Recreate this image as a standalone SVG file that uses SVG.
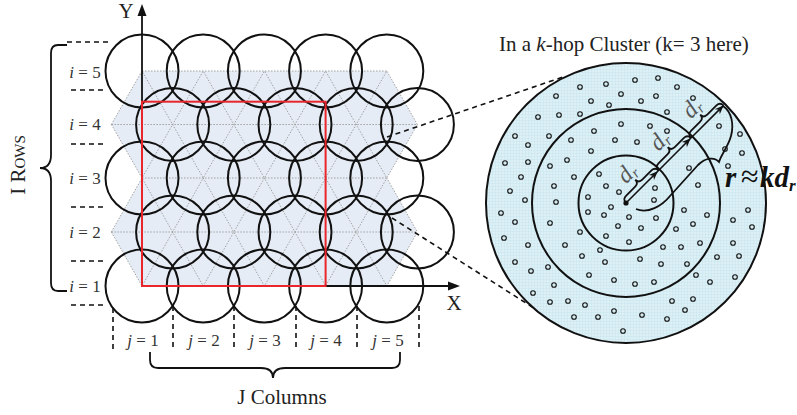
<svg xmlns="http://www.w3.org/2000/svg" width="797" height="415" viewBox="0 0 797 415">
<style>
.cir{fill:none;stroke:#111;stroke-width:2}
.dot{fill:none;stroke:#999;stroke-width:0.9;stroke-dasharray:1.5 1.5}
.dsh{fill:none;stroke:#111;stroke-width:1.6;stroke-dasharray:5 4}
.ln{fill:none;stroke:#111;stroke-width:1.8}
.lbl{font-family:"Liberation Serif",serif;font-size:17px;fill:#333}
.big{font-family:"Liberation Serif",serif;font-size:21px;fill:#222}
.nd{fill:none;stroke:#111;stroke-width:1.1}
.ring{fill:none;stroke:#111;stroke-width:2}
.dr{font-family:"Liberation Serif",serif;font-style:italic;font-size:24px;fill:#555}
</style>
<defs>
<pattern id="grid" width="3" height="3" patternUnits="userSpaceOnUse">
<rect width="3" height="3" fill="#dcf0f6"/>
<path d="M0,0.5H3M0.5,0V3" stroke="#c9e5ee" stroke-width="0.5"/>
</pattern>
<marker id="ah" viewBox="0 0 10 10" refX="10" refY="5" markerWidth="9" markerHeight="9" markerUnits="userSpaceOnUse" orient="auto">
<path d="M0,1 L10,5 L0,9 L3,5 z" fill="#111"/>
</marker>
</defs>
<rect width="797" height="415" fill="#fff"/>

<g id="lattice">
<polygon points="142,71 386.8,71 417.4,124.5 386.8,178 417.4,232 386.8,286 142,286 111.4,232 142,178 111.4,124.5" fill="#e6ecf5"/>
<path class="dot" d="M142,71H386.8M111.4,124.5H417.4M142,178H386.8M111.4,232H417.4M142,286H386.8"/>
<polyline class="dot" points="111.4,124.5 142,71 172.6,124.5 203.2,71 233.8,124.5 264.4,71 295,124.5 325.6,71 356.2,124.5 386.8,71 417.4,124.5"/>
<polyline class="dot" points="111.4,124.5 142,178 172.6,124.5 203.2,178 233.8,124.5 264.4,178 295,124.5 325.6,178 356.2,124.5 386.8,178 417.4,124.5"/>
<polyline class="dot" points="111.4,232 142,178 172.6,232 203.2,178 233.8,232 264.4,178 295,232 325.6,178 356.2,232 386.8,178 417.4,232"/>
<polyline class="dot" points="111.4,232 142,286 172.6,232 203.2,286 233.8,232 264.4,286 295,232 325.6,286 356.2,232 386.8,286 417.4,232"/>
</g>

<g id="circles">
<circle class="cir" cx="142" cy="71" r="36.5"/><circle class="cir" cx="203.2" cy="71" r="36.5"/><circle class="cir" cx="264.4" cy="71" r="36.5"/><circle class="cir" cx="325.6" cy="71" r="36.5"/><circle class="cir" cx="386.8" cy="71" r="36.5"/>
<circle class="cir" cx="172.6" cy="124.5" r="36.5"/><circle class="cir" cx="233.8" cy="124.5" r="36.5"/><circle class="cir" cx="295" cy="124.5" r="36.5"/><circle class="cir" cx="356.2" cy="124.5" r="36.5"/><circle class="cir" cx="417.4" cy="124.5" r="36.5"/>
<circle class="cir" cx="142" cy="178" r="36.5"/><circle class="cir" cx="203.2" cy="178" r="36.5"/><circle class="cir" cx="264.4" cy="178" r="36.5"/><circle class="cir" cx="325.6" cy="178" r="36.5"/><circle class="cir" cx="386.8" cy="178" r="36.5"/>
<circle class="cir" cx="172.6" cy="232" r="36.5"/><circle class="cir" cx="233.8" cy="232" r="36.5"/><circle class="cir" cx="295" cy="232" r="36.5"/><circle class="cir" cx="356.2" cy="232" r="36.5"/><circle class="cir" cx="417.4" cy="232" r="36.5"/>
<circle class="cir" cx="142" cy="286" r="36.5"/><circle class="cir" cx="203.2" cy="286" r="36.5"/><circle class="cir" cx="264.4" cy="286" r="36.5"/><circle class="cir" cx="325.6" cy="286" r="36.5"/><circle class="cir" cx="386.8" cy="286" r="36.5"/>
</g>

<g id="axes">
<line class="ln" x1="142" y1="286" x2="142" y2="14"/>
<polygon points="142,4 137.5,16 146.5,16" fill="#111"/>
<line class="ln" x1="142" y1="286" x2="449" y2="286"/>
<polygon points="460,286 448,281.5 448,290.5" fill="#111"/>
<text class="big" x="126" y="18" text-anchor="middle" font-size="18">Y</text>
<text class="big" x="454" y="310" text-anchor="middle" font-size="19">X</text>
</g>

<rect id="region" x="142" y="101.7" width="183.6" height="184.3" fill="none" stroke="#e8262b" stroke-width="2"/>

<g id="rows">
<path class="dsh" d="M67,42H108M71,90H106M71,144H106M71,207H106M71,261H106M71,305H106"/>
<text class="lbl" x="85" y="78" text-anchor="middle"><tspan font-style="italic">i</tspan> = 5</text>
<text class="lbl" x="85" y="130" text-anchor="middle"><tspan font-style="italic">i</tspan> = 4</text>
<text class="lbl" x="85" y="184" text-anchor="middle"><tspan font-style="italic">i</tspan> = 3</text>
<text class="lbl" x="85" y="238" text-anchor="middle"><tspan font-style="italic">i</tspan> = 2</text>
<text class="lbl" x="85" y="292" text-anchor="middle"><tspan font-style="italic">i</tspan> = 1</text>
<path class="ln" d="M67,45 L58,45 Q51,45 51,53 L51,155 Q51,168 40,168 Q51,168 51,181 L51,283 Q51,291 58,291 L67,291"/>
<text class="big" transform="translate(25,165) rotate(-90)" text-anchor="middle" font-variant="small-caps">I Rows</text>
</g>

<g id="columns">
<path class="dsh" d="M113,308V350M173,306V350M234,306V350M296,306V350M357,306V350M419,306V350"/>
<text class="lbl" x="143" y="346" text-anchor="middle"><tspan font-style="italic">j</tspan> = 1</text>
<text class="lbl" x="204" y="346" text-anchor="middle"><tspan font-style="italic">j</tspan> = 2</text>
<text class="lbl" x="265" y="346" text-anchor="middle"><tspan font-style="italic">j</tspan> = 3</text>
<text class="lbl" x="326" y="346" text-anchor="middle"><tspan font-style="italic">j</tspan> = 4</text>
<text class="lbl" x="388" y="346" text-anchor="middle"><tspan font-style="italic">j</tspan> = 5</text>
<path class="ln" d="M150,352 L150,360 Q150,368 158,368 L261,368 Q273,368 273,378 Q273,368 285,368 L392,368 Q400,368 400,360 L400,352"/>
<text class="big" x="282" y="404" text-anchor="middle">J Columns</text>
</g>

<g id="connectors">
<line class="dsh" x1="387" y1="137" x2="563" y2="77" stroke-width="1.8" stroke-dasharray="6 4"/>
<line class="dsh" x1="392" y1="218" x2="548" y2="317" stroke-width="1.8" stroke-dasharray="6 4"/>
</g>

<g id="cluster">
<text class="big" x="499" y="51">In a <tspan font-style="italic">k</tspan>-hop Cluster (k= 3 here)</text>
<circle cx="626" cy="203" r="140" fill="url(#grid)" stroke="#111" stroke-width="2"/>
<circle class="ring" cx="626" cy="203" r="94"/>
<circle class="ring" cx="626" cy="203" r="47.5"/>
<g id="nodes">
<circle class="nd" cx="580" cy="87" r="2.3"/><circle class="nd" cx="606" cy="84" r="2.3"/><circle class="nd" cx="621" cy="94" r="2.3"/><circle class="nd" cx="556" cy="96" r="2.3"/><circle class="nd" cx="591" cy="101" r="2.3"/><circle class="nd" cx="609" cy="105" r="2.3"/><circle class="nd" cx="538" cy="117" r="2.3"/><circle class="nd" cx="559" cy="115" r="2.3"/><circle class="nd" cx="580" cy="114" r="2.3"/><circle class="nd" cx="621" cy="124" r="2.3"/><circle class="nd" cx="515" cy="136" r="2.3"/><circle class="nd" cx="549" cy="136" r="2.3"/><circle class="nd" cx="594" cy="131" r="2.3"/><circle class="nd" cx="528" cy="145" r="2.3"/><circle class="nd" cx="571" cy="140" r="2.3"/><circle class="nd" cx="615" cy="140" r="2.3"/><circle class="nd" cx="591" cy="151" r="2.3"/><circle class="nd" cx="505" cy="163" r="2.3"/><circle class="nd" cx="528" cy="162" r="2.3"/><circle class="nd" cx="550" cy="166" r="2.3"/><circle class="nd" cx="567" cy="160" r="2.3"/><circle class="nd" cx="521" cy="177" r="2.3"/><circle class="nd" cx="574" cy="177" r="2.3"/><circle class="nd" cx="599" cy="174" r="2.3"/><circle class="nd" cx="554" cy="186" r="2.3"/><circle class="nd" cx="606" cy="186" r="2.3"/><circle class="nd" cx="510" cy="191" r="2.3"/><circle class="nd" cx="525" cy="200" r="2.3"/><circle class="nd" cx="556" cy="202" r="2.3"/><circle class="nd" cx="619" cy="192" r="2.3"/><circle class="nd" cx="588" cy="197" r="2.3"/>
<circle class="nd" cx="635" cy="80" r="2.3"/><circle class="nd" cx="658" cy="78" r="2.3"/><circle class="nd" cx="677" cy="87" r="2.3"/><circle class="nd" cx="641" cy="101" r="2.3"/><circle class="nd" cx="656" cy="96" r="2.3"/><circle class="nd" cx="693" cy="98" r="2.3"/><circle class="nd" cx="667" cy="112" r="2.3"/><circle class="nd" cx="650" cy="126" r="2.3"/><circle class="nd" cx="667" cy="131" r="2.3"/><circle class="nd" cx="637" cy="142" r="2.3"/><circle class="nd" cx="719" cy="126" r="2.3"/><circle class="nd" cx="740" cy="134" r="2.3"/><circle class="nd" cx="725" cy="149" r="2.3"/><circle class="nd" cx="742" cy="153" r="2.3"/><circle class="nd" cx="728" cy="166" r="2.3"/><circle class="nd" cx="689" cy="168" r="2.3"/><circle class="nd" cx="655" cy="188" r="2.3"/><circle class="nd" cx="698" cy="185" r="2.3"/><circle class="nd" cx="654" cy="200" r="2.3"/>
<circle class="nd" cx="501" cy="213" r="2.3"/><circle class="nd" cx="515" cy="222" r="2.3"/><circle class="nd" cx="550" cy="223" r="2.3"/><circle class="nd" cx="588" cy="212" r="2.3"/><circle class="nd" cx="604" cy="215" r="2.3"/><circle class="nd" cx="611" cy="207" r="2.3"/><circle class="nd" cx="618" cy="226" r="2.3"/><circle class="nd" cx="580" cy="232" r="2.3"/><circle class="nd" cx="606" cy="236" r="2.3"/><circle class="nd" cx="504" cy="238" r="2.3"/><circle class="nd" cx="528" cy="245" r="2.3"/><circle class="nd" cx="565" cy="245" r="2.3"/><circle class="nd" cx="600" cy="250" r="2.3"/><circle class="nd" cx="582" cy="256" r="2.3"/><circle class="nd" cx="605" cy="262" r="2.3"/><circle class="nd" cx="515" cy="262" r="2.3"/><circle class="nd" cx="548" cy="267" r="2.3"/><circle class="nd" cx="531" cy="271" r="2.3"/><circle class="nd" cx="589" cy="275" r="2.3"/><circle class="nd" cx="614" cy="280" r="2.3"/><circle class="nd" cx="554" cy="285" r="2.3"/><circle class="nd" cx="533" cy="293" r="2.3"/><circle class="nd" cx="550" cy="302" r="2.3"/><circle class="nd" cx="568" cy="301" r="2.3"/><circle class="nd" cx="585" cy="305" r="2.3"/><circle class="nd" cx="614" cy="311" r="2.3"/><circle class="nd" cx="574" cy="317" r="2.3"/><circle class="nd" cx="598" cy="317" r="2.3"/><circle class="nd" cx="623" cy="331" r="2.3"/>
<circle class="nd" cx="629" cy="217" r="2.3"/><circle class="nd" cx="656" cy="218" r="2.3"/><circle class="nd" cx="684" cy="210" r="2.3"/><circle class="nd" cx="707" cy="215" r="2.3"/><circle class="nd" cx="733" cy="220" r="2.3"/><circle class="nd" cx="748" cy="210" r="2.3"/><circle class="nd" cx="752" cy="227" r="2.3"/><circle class="nd" cx="641" cy="228" r="2.3"/><circle class="nd" cx="676" cy="229" r="2.3"/><circle class="nd" cx="693" cy="224" r="2.3"/><circle class="nd" cx="629" cy="242" r="2.3"/><circle class="nd" cx="663" cy="247" r="2.3"/><circle class="nd" cx="681" cy="247" r="2.3"/><circle class="nd" cx="700" cy="243" r="2.3"/><circle class="nd" cx="733" cy="243" r="2.3"/><circle class="nd" cx="717" cy="257" r="2.3"/><circle class="nd" cx="739" cy="256" r="2.3"/><circle class="nd" cx="640" cy="259" r="2.3"/><circle class="nd" cx="661" cy="264" r="2.3"/><circle class="nd" cx="687" cy="264" r="2.3"/><circle class="nd" cx="696" cy="275" r="2.3"/><circle class="nd" cx="735" cy="277" r="2.3"/><circle class="nd" cx="635" cy="284" r="2.3"/><circle class="nd" cx="654" cy="282" r="2.3"/><circle class="nd" cx="710" cy="282" r="2.3"/><circle class="nd" cx="672" cy="301" r="2.3"/><circle class="nd" cx="693" cy="299" r="2.3"/><circle class="nd" cx="685" cy="310" r="2.3"/><circle class="nd" cx="642" cy="315" r="2.3"/><circle class="nd" cx="667" cy="319" r="2.3"/>
</g>
<g id="radius">
<circle cx="626" cy="203" r="2.6" fill="#111"/>
<line x1="626" y1="203" x2="657.8" y2="171.2" stroke="#111" stroke-width="1.6" marker-end="url(#ah)"/>
<line x1="657.8" y1="171.2" x2="690.7" y2="138.3" stroke="#111" stroke-width="1.6" marker-end="url(#ah)"/>
<line x1="690.7" y1="138.3" x2="723.6" y2="105.4" stroke="#111" stroke-width="1.6" marker-end="url(#ah)"/>
<g transform="translate(626,203) rotate(-45)">
<path class="ln" stroke-width="1.5" d="M0,0 Q0,-5 5,-5 L18,-5 Q23,-5 23,-10 Q23,-5 28,-5 L41,-5 Q46,-5 46,0"/>
<text class="dr" x="22" y="-13" text-anchor="middle">d<tspan font-size="15" dy="3">r</tspan></text>
</g>
<g transform="translate(658.5,170.5) rotate(-45)">
<path class="ln" stroke-width="1.5" d="M0,0 Q0,-5 5,-5 L18,-5 Q23,-5 23,-10 Q23,-5 28,-5 L41,-5 Q46,-5 46,0"/>
<text class="dr" x="22" y="-13" text-anchor="middle">d<tspan font-size="15" dy="3">r</tspan></text>
</g>
<g transform="translate(691,138) rotate(-45)">
<path class="ln" stroke-width="1.5" d="M0,0 Q0,-5 5,-5 L18,-5 Q23,-5 23,-10 Q23,-5 28,-5 L41,-5 Q46,-5 46,0"/>
<text class="dr" x="22" y="-13" text-anchor="middle">d<tspan font-size="15" dy="3">r</tspan></text>
</g>
<path class="ln" stroke-width="1.6" d="M723,106 C732,112 734,125 731,136 C728,147 722,153 719,162 C715,157 706,157 698,165 L670,196 C662,206 648,214 636,209"/>
<text font-family="'Liberation Serif',serif" font-weight="bold" font-style="italic" font-size="29" fill="#111" x="725" y="187">r<tspan x="741" font-style="normal" font-weight="normal" font-size="32">≈</tspan><tspan x="760">kd</tspan><tspan font-size="17" dy="4">r</tspan></text>
</g>
</g>
</svg>
